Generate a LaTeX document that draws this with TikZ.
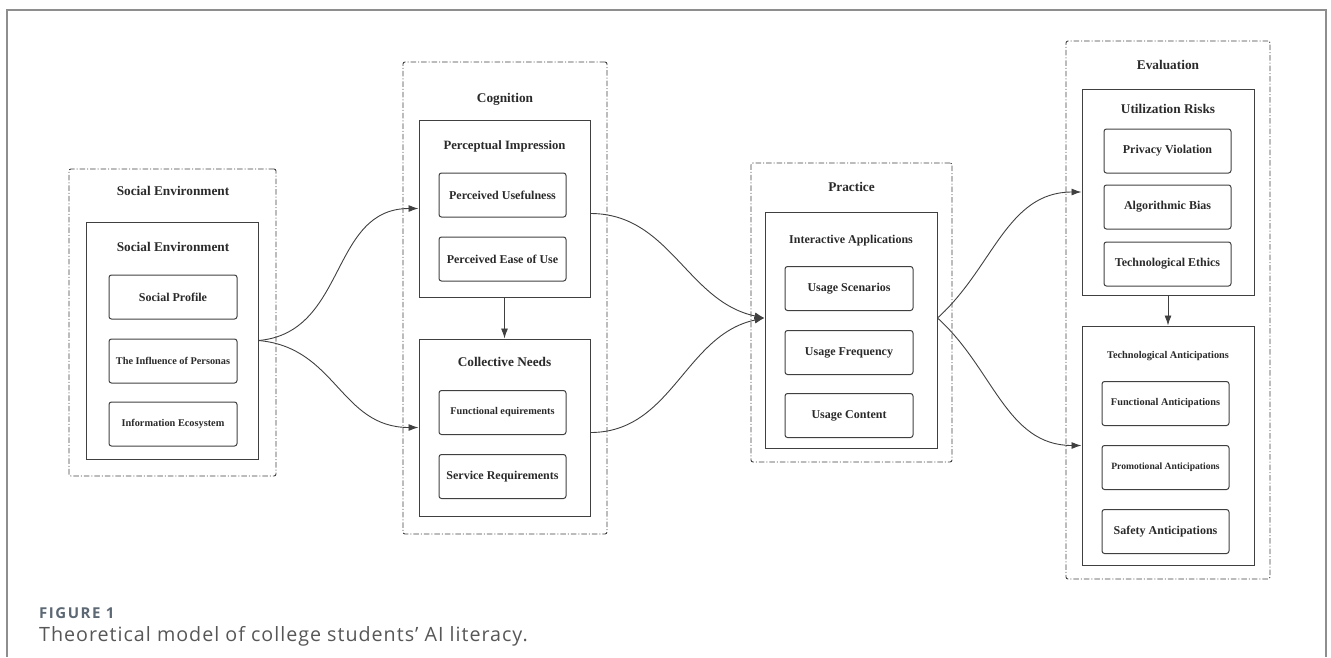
\documentclass[tikz,border=0pt]{standalone}
\usepackage{fontspec}
\setmainfont{Liberation Serif}
\newfontfamily\capfont[LetterSpace=5]{Open Sans}
\newfontfamily\caplabelfont[LetterSpace=10]{Open Sans}
\usetikzlibrary{arrows.meta, positioning, calc}

\definecolor{linegray}{HTML}{404040}
\definecolor{textgray}{HTML}{2A2A2A}
\definecolor{framegray}{HTML}{8E8E8E}
\definecolor{capblue}{HTML}{5C6873}
\definecolor{captext}{HTML}{575757}

\begin{document}
\begin{tikzpicture}[
  x=1pt, y=-1pt,
  group/.style = {draw=linegray, line width=0.9pt, rounded corners=2pt, inner sep=0pt,
                  dash pattern=on 5.5pt off 2pt on 1pt off 2pt},
  panel/.style = {draw=linegray, line width=1pt, inner sep=0pt},
  item/.style  = {draw=linegray, line width=1pt, rounded corners=2.5pt, inner sep=2pt,
                  minimum width=128pt, minimum height=44pt, text=textgray,
                  font=\bfseries\fontsize{12}{14}\selectfont},
  title/.style = {anchor=mid, inner sep=0pt, text=textgray,
                  font=\bfseries\fontsize{13.3}{15}\selectfont},
  small/.style = {font=\bfseries\fontsize{10.3}{12}\selectfont},
  arrow/.style = {draw=linegray, line width=0.9pt, -{Latex[length=10pt, width=7pt]}},
  node distance=19pt
]
\useasboundingbox (0,0) rectangle (1331,657);

%--------------------------------------------------
% frame and caption
%--------------------------------------------------
\draw[framegray, line width=1.2pt] (7,657) |- (1326,10) -- (1326,657);

\node[anchor=base west, inner sep=0pt, text=capblue,
      font=\caplabelfont\bfseries\fontsize{15}{17}\selectfont] (fig_label) at (39,618) {FIGURE 1};
\node[anchor=base west, inner sep=0pt, text=captext,
      font=\capfont\fontsize{19.7}{22}\selectfont] (fig_caption) at (39,641)
  {Theoretical model of college students’ AI literacy.};

%--------------------------------------------------
% Social environment
%--------------------------------------------------
\node[group, minimum width=207pt, minimum height=307pt] (g_social) at (172.5,322.5) {};
\node[title] (t_social) at (173,193) {Social Environment};
\node[panel, minimum width=172pt, minimum height=237pt] (p_social) at (172,340.5) {};
\node[title] (t_socpanel) at (173,249) {Social Environment};

\node[item] (soc_profile) at (173,297) {Social Profile};
\node[item, small, below=of soc_profile] (soc_persona) {The Influence of Personas};
\node[item, small, below=18pt of soc_persona] (soc_info) {Information Ecosystem};

%--------------------------------------------------
% Cognition
%--------------------------------------------------
\node[group, minimum width=204pt, minimum height=472pt] (g_cog) at (505,298) {};
\node[title] (t_cog) at (505,100) {Cognition};

\node[panel, minimum width=171pt, minimum height=177pt] (p_percept) at (504.5,208.5) {};
\node[title, font=\bfseries\fontsize{12.7}{15}\selectfont] (t_percept) at (504.5,147) {Perceptual Impression};
\node[item, minimum width=127pt] (cog_useful) at (502.5,195) {Perceived Usefulness};
\node[item, minimum width=127pt, below=of cog_useful] (cog_ease) {Perceived Ease of Use};

\node[panel, minimum width=171pt, minimum height=177pt] (p_needs) at (504.5,427.5) {};
\node[title] (t_needs) at (504.5,364) {Collective Needs};
\node[item, small, minimum width=127pt] (cog_func) at (502.5,412.5) {Functional equirements};
\node[item, minimum width=127pt, below=of cog_func] (cog_service) {Service Requirements};

%--------------------------------------------------
% Practice
%--------------------------------------------------
\node[group, minimum width=201pt, minimum height=299pt] (g_prac) at (851.5,312.5) {};
\node[title] (t_prac) at (851.5,189) {Practice};

\node[panel, minimum width=172pt, minimum height=236pt] (p_inter) at (851,330) {};
\node[title, font=\bfseries\fontsize{12}{14}\selectfont] (t_inter) at (851,241) {Interactive Applications};
\node[item] (prac_scen) at (849,288.5) {Usage Scenarios};
\node[item, below=of prac_scen] (prac_freq) {Usage Frequency};
\node[item, below=18pt of prac_freq] (prac_cont) {Usage Content};

%--------------------------------------------------
% Evaluation
%--------------------------------------------------
\node[group, minimum width=204pt, minimum height=538pt] (g_eval) at (1168,310) {};
\node[title] (t_eval) at (1168,67) {Evaluation};

\node[panel, minimum width=172pt, minimum height=206pt] (p_risk) at (1168,192) {};
\node[title] (t_risk) at (1168,111) {Utilization Risks};
\node[item, minimum width=127pt] (eval_privacy) at (1167.5,151) {Privacy Violation};
\node[item, minimum width=127pt, below=11pt of eval_privacy] (eval_bias) {Algorithmic Bias};
\node[item, minimum width=127pt, below=12pt of eval_bias] (eval_ethics) {Technological Ethics};

\node[panel, minimum width=172pt, minimum height=239pt] (p_antic) at (1168,445.5) {};
\node[title, font=\bfseries\fontsize{10.3}{12}\selectfont] (t_antic) at (1168,356) {Technological Anticipations};
\node[item, small, minimum width=127pt] (eval_func) at (1165.5,403.5) {Functional Anticipations};
\node[item, minimum width=127pt, below=of eval_func,
      font=\bfseries\fontsize{9.6}{12}\selectfont] (eval_promo) {Promotional Anticipations};
\node[item, minimum width=127pt, below=of eval_promo] (eval_safety) {Safety Anticipations};

%--------------------------------------------------
% Connections
%--------------------------------------------------
\draw[arrow] (p_social.east) to[out=5, in=180, looseness=1.1] (p_percept.west);
\draw[arrow] (p_social.east) to[out=-5, in=180, looseness=1.1] (p_needs.west);

\draw[arrow] (p_percept.south) -- (p_needs.north);

\draw[arrow] ([yshift=-5pt]p_percept.east) to[out=0, in=168] ([yshift=12pt]p_inter.west);
\draw[arrow] ([yshift=-5pt]p_needs.east) to[out=0, in=192] ([yshift=12pt]p_inter.west);

\draw[arrow] ([yshift=12pt]p_inter.east) to[out=42, in=180] (p_risk.west);
\draw[arrow] ([yshift=12pt]p_inter.east) to[out=-42, in=180] (p_antic.west);

\draw[arrow] (p_risk.south) -- (p_antic.north);

\end{tikzpicture}
\end{document}
